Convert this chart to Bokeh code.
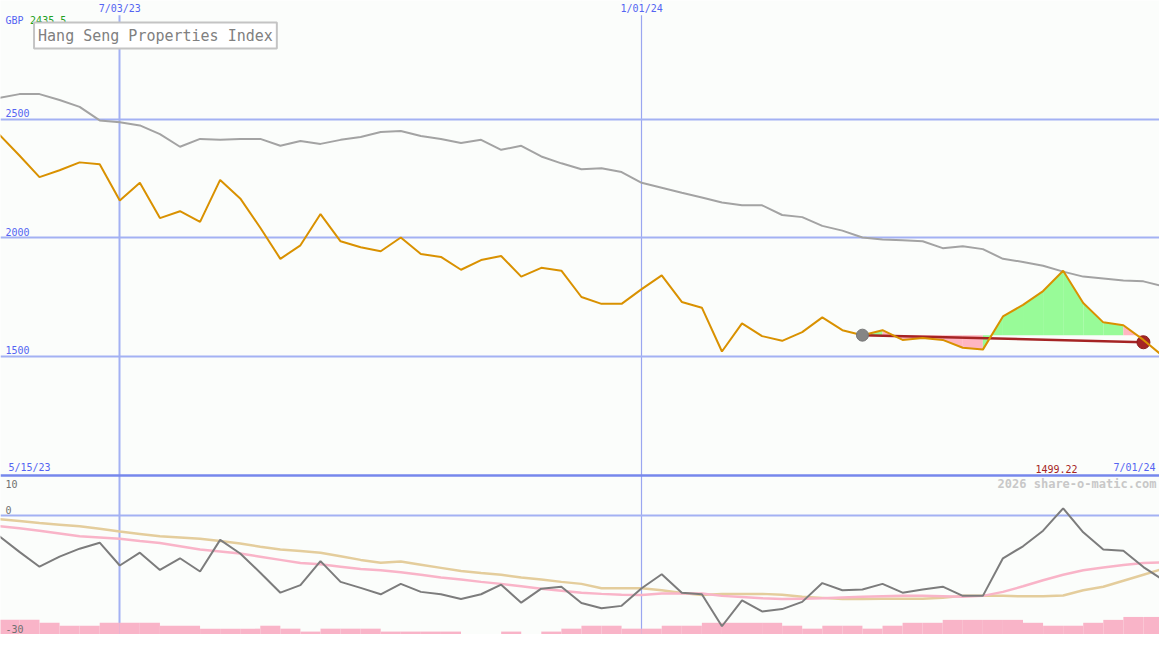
import pandas as pd
from bokeh.plotting import figure
from bokeh.models import ColumnDataSource, Range1d, Label, LabelSet
from bokeh.embed import file_html
from bokeh.resources import INLINE
from bokeh.core.properties import value

# ---------------- data ----------------
first_date = "2023-05-22"
n_weeks = 59
dates = list(pd.date_range(first_date, periods=n_weeks, freq="7D"))

index_close = [2435.5, 2348, 2257, 2286, 2319, 2311, 2158, 2233, 2084, 2113,
               2068, 2245, 2167, 2043, 1912, 1969, 2101, 1986, 1961, 1944,
               2002, 1932, 1920, 1866, 1907, 1924, 1837, 1874, 1862, 1751,
               1722, 1722, 1784, 1842, 1730, 1706, 1521, 1640, 1586, 1566,
               1603, 1665, 1611, 1590, 1611, 1570, 1578, 1570, 1537, 1529,
               1669, 1718, 1776, 1862, 1726, 1644, 1632, 1570, 1499.22]

benchmark = [2591, 2607, 2607, 2582, 2553, 2496, 2488, 2475, 2438, 2385,
             2418, 2414, 2418, 2418, 2389, 2409, 2397, 2414, 2426, 2447,
             2451, 2430, 2418, 2401, 2414, 2372, 2389, 2344, 2315, 2290,
             2294, 2278, 2233, 2212, 2191, 2171, 2150, 2138, 2138, 2097,
             2088, 2051, 2031, 2002, 1994, 1990, 1986, 1957, 1965, 1953,
             1912, 1899, 1883, 1858, 1837, 1829, 1821, 1817, 1796]

osc_main = [-5.2, -9.1, -12.8, -10.3, -8.3, -6.8, -12.5, -9.3, -13.6, -10.7,
            -14.0, -6.1, -9.5, -14.3, -19.3, -17.4, -11.4, -16.6, -18.1, -19.7,
            -17.1, -19.1, -19.7, -20.9, -19.7, -17.3, -21.8, -18.3, -17.8, -21.9,
            -23.2, -22.6, -18.2, -14.7, -19.3, -19.7, -27.7, -21.2, -24.0, -23.4,
            -21.6, -16.9, -18.7, -18.5, -17.1, -19.3, -18.5, -17.8, -20.1, -20.1,
            -10.7, -7.7, -3.8, 1.8, -4.2, -8.5, -8.8, -12.9, -16.2]

osc_slow = [-0.9, -1.4, -1.9, -2.3, -2.7, -3.3, -4.0, -4.6, -5.2, -5.5,
            -5.8, -6.4, -7.0, -7.8, -8.5, -8.9, -9.3, -10.2, -11.1, -11.8,
            -11.5, -12.3, -13.1, -13.9, -14.4, -14.8, -15.5, -16.0, -16.6, -17.1,
            -18.2, -18.2, -18.2, -18.7, -19.4, -19.9, -19.6, -19.6, -19.6, -19.8,
            -20.3, -20.6, -20.9, -20.9, -20.8, -20.8, -20.8, -20.6, -20.1, -20.1,
            -20.1, -20.2, -20.2, -20.0, -18.7, -17.8, -16.3, -14.8, -13.3]

osc_fast = [-2.7, -3.2, -3.8, -4.5, -5.2, -5.5, -5.8, -6.4, -6.9, -7.7,
            -8.5, -9.0, -9.5, -10.3, -11.1, -11.9, -12.2, -12.8, -13.4, -13.7,
            -14.2, -14.8, -15.5, -16.0, -16.6, -17.1, -17.7, -18.3, -18.8, -19.3,
            -19.6, -19.8, -19.9, -19.5, -19.5, -19.5, -20.1, -20.4, -20.7, -20.9,
            -20.8, -20.7, -20.5, -20.3, -20.2, -20.1, -20.1, -20.2, -20.3, -20.1,
            -19.1, -17.7, -16.2, -14.8, -13.7, -13.0, -12.4, -11.9, -11.7]

volume_level = [5, 5, 4, 3, 3, 4, 4, 4, 3, 3,
                2, 2, 2, 3, 2, 1, 2, 2, 2, 1,
                1, 1, 1, 0, 0, 1, 0, 1, 2, 3,
                3, 2, 2, 3, 3, 4, 4, 4, 4, 3,
                2, 3, 3, 2, 3, 4, 4, 5, 5, 5,
                5, 4, 3, 3, 4, 5, 6, 6]

trend_index = [43, 57]
trend_values = [1590, 1560]

main_ticks = [2500, 2000, 1500]
osc_ticks = [10, 0, -30]
date_ticks = ["2023-07-03", "2024-01-01"]
date_tick_labels = ["7/03/23", "1/01/24"]
period_labels = ["5/15/23", "7/01/24"]
currency = "GBP"
title_text = "Hang Seng Properties Index"
watermark = "2026 share-o-matic.com"

# ---------------- layout ----------------
W, H = 1159, 634
SX, SY = W / 1175.0, H / 650.0
def sx(px):
    return px * SX
def sy(py):
    return H - py * SY

BG = "#fbfdfb"
GRID = "#a3b1f3"
GRID2 = "#9aa6f0"
SEP = "#7687ec"
BLUE_TXT = "#5464f2"
MONO = "DejaVu Sans Mono"

x0 = pd.Timestamp("2023-07-03") - pd.Timedelta(days=41.6)
x1 = pd.Timestamp("2023-07-03") + pd.Timedelta(days=362.6)

p = figure(width=W, height=H, x_axis_type="datetime",
           x_range=Range1d(x0, x1), y_range=Range1d(327, 3002),
           output_backend="svg", toolbar_location=None,
           x_axis_location=None, y_axis_location=None, min_border=0,
           background_fill_color=BG, border_fill_color=BG,
           outline_line_color=None)
p.extra_y_ranges = {"osc": Range1d(-29.76, 128.8), "vol": Range1d(0, 216.7)}
p.grid.visible = False

# vertical date lines
p.vspan(x=[pd.Timestamp(date_ticks[0])], line_color=GRID, line_width=2)
p.vspan(x=[pd.Timestamp(date_ticks[1])], line_color=GRID2, line_width=1.2)

# horizontal grid lines
p.hspan(y=main_ticks, line_color=GRID, line_width=2)
p.hspan(y=[osc_ticks[1]], line_color=GRID, line_width=2, y_range_name="osc")
p.hspan(y=[osc_ticks[0]], line_color=SEP, line_width=2.5, y_range_name="osc")

# volume bars
vol_src = ColumnDataSource(dict(left=dates[:-1], right=dates[1:],
                                top=volume_level, bottom=[0] * len(volume_level)))
p.quad(left="left", right="right", top="top", bottom="bottom", source=vol_src,
       fill_color="#f9b4c8", line_color=None, y_range_name="vol")

# oscillator lines
p.line(dates, osc_slow, line_color="#e4cd9c", line_width=2.5, y_range_name="osc")
p.line(dates, osc_fast, line_color="#f9b4c8", line_width=2.5, y_range_name="osc")
p.line(dates, osc_main, line_color="#7c7c7c", line_width=2, y_range_name="osc")

# gain / loss fills since trend start
i0, i1 = trend_index
base = index_close[i0]
xs, ys, cols = [], [], []
for i in range(i0, i1):
    xs.append([dates[i], dates[i + 1], dates[i + 1], dates[i]])
    ys.append([index_close[i], index_close[i + 1], base, base])
    cols.append("#98fb98" if index_close[i + 1] > base else "#ffb6c1")
p.patches(xs, ys, fill_color=cols, line_color=None)

# benchmark line
p.line(dates, benchmark, line_color="#a3a3a3", line_width=2)

# trend line
tdates = [dates[i] for i in trend_index]
p.line(tdates, trend_values, line_color="#a52424", line_width=2.5)
p.scatter([tdates[1]], [trend_values[1]], size=13, fill_color="#a52424",
          line_color="#8a1c1c")

# index line
p.line(dates, index_close, line_color="#d99100", line_width=2)
p.scatter([tdates[0]], [trend_values[0]], size=12, fill_color="#858585",
          line_color="#777777")

# ---------------- texts ----------------
small = "10px"
FONT = value(MONO)

# top date labels
p.add_layout(LabelSet(source=ColumnDataSource(dict(
    x=[pd.Timestamp(d) for d in date_ticks], text=date_tick_labels)),
    x="x", y=sy(8), y_units="screen", text="text",
    text_align="center", text_baseline="middle",
    text_font=FONT, text_font_size=value(small), text_color=value(BLUE_TXT),
    background_fill_color=BG, border_line_color=BG, border_line_width=3))

# main value labels
p.add_layout(LabelSet(source=ColumnDataSource(dict(
    y=main_ticks, text=[str(v) for v in main_ticks])),
    x=sx(5), x_units="screen", y="y", text="text", y_offset=2,
    text_align="left", text_baseline="bottom",
    text_font=FONT, text_font_size=value(small), text_color=value(BLUE_TXT)))

# oscillator labels
p.add_layout(Label(x=sx(5), y=osc_ticks[0], y_range_name="osc", x_units="screen",
                   text=str(osc_ticks[0]), y_offset=-4, text_baseline="top",
                   text_font=MONO, text_font_size=small, text_color="#707070"))
p.add_layout(LabelSet(source=ColumnDataSource(dict(
    y=osc_ticks[1:], text=[str(v) for v in osc_ticks[1:]])),
    x=sx(5), x_units="screen", y="y", y_range_name="osc", text="text",
    y_offset=2, text_baseline="bottom",
    text_font=FONT, text_font_size=value(small), text_color=value("#707070")))

# currency and first value
p.add_layout(Label(x=sx(5), y=sy(20), x_units="screen", y_units="screen",
                   text=currency, text_baseline="middle",
                   text_font=MONO, text_font_size=small, text_color=BLUE_TXT))
p.add_layout(Label(x=sx(30), y=sy(20), x_units="screen", y_units="screen",
                   text=f"{index_close[0]}", text_baseline="middle",
                   text_font=MONO, text_font_size=small, text_color="#22a022"))

# title box
p.add_layout(Label(x=sx(34), y=sy(36), x_units="screen", y_units="screen",
                   text=title_text, text_baseline="middle",
                   text_font=MONO, text_font_size="15px", text_color="#808080",
                   background_fill_color="#ffffff", border_line_color="#c4c4c4",
                   border_line_width=2, padding=4))

# period labels
p.add_layout(Label(x=sx(8), y=osc_ticks[0], y_range_name="osc", x_units="screen",
                   text=period_labels[0], y_offset=3, text_baseline="bottom",
                   text_font=MONO, text_font_size=small, text_color=BLUE_TXT))
p.add_layout(Label(x=sx(1171), y=osc_ticks[0], y_range_name="osc", x_units="screen",
                   text=period_labels[1], y_offset=3, text_baseline="bottom",
                   text_align="right",
                   text_font=MONO, text_font_size=small, text_color=BLUE_TXT))
p.add_layout(Label(x=sx(1092), y=osc_ticks[0], y_range_name="osc", x_units="screen",
                   text=f"{index_close[-1]:.2f}", y_offset=3, text_baseline="bottom",
                   text_align="right",
                   text_font=MONO, text_font_size=small, text_color="#a52424"))

# watermark
p.add_layout(Label(x=sx(1172), y=sy(496), x_units="screen", y_units="screen",
                   text=watermark, text_align="right", text_baseline="middle",
                   text_font=MONO, text_font_size="12px", text_font_style="bold",
                   text_color="#c8c8c8"))

open("out.html", "w").write(file_html(p, INLINE))
